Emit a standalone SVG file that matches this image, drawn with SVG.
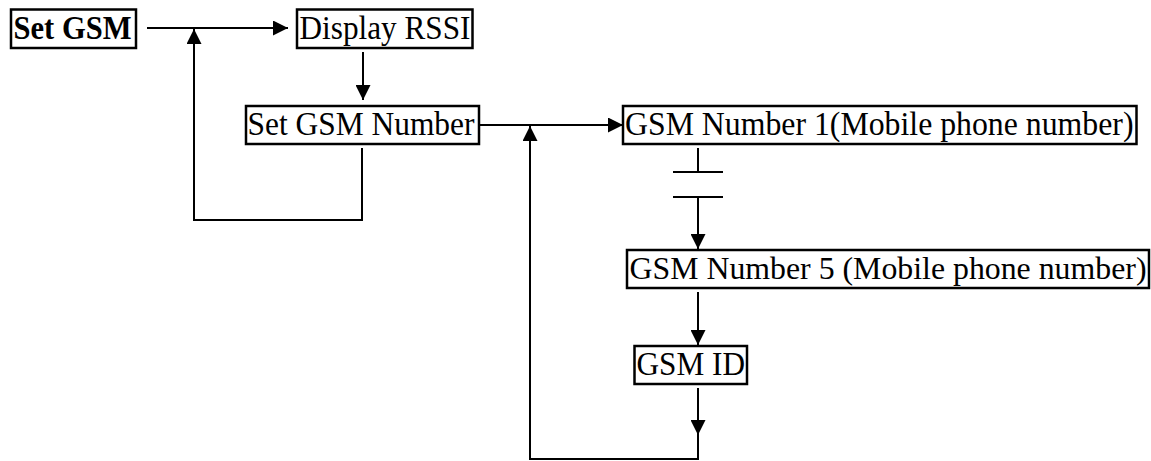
<svg xmlns="http://www.w3.org/2000/svg" width="1151" height="461" viewBox="0 0 1151 461">
<style>
.box{fill:#fff;stroke:#000;stroke-width:2.5}
.t{font-family:"Liberation Serif","DejaVu Serif",serif;font-size:33px;fill:#000}
.s{font-size:31.5px}
.b{font-weight:bold}
.c{fill:none;stroke:#000;stroke-width:2}
.a{marker-end:url(#ah)}
</style>
<defs>
<marker id="ah" viewBox="0 0 15 15" refX="15" refY="7.5" markerWidth="15" markerHeight="15" markerUnits="userSpaceOnUse" orient="auto">
<path d="M0,0 L15,7.5 L0,15 Z" fill="#000"/>
</marker>
</defs>
<rect width="1151" height="461" fill="#fff"/>
<g id="connectors">
<path class="c a" d="M147,28 H288"/>
<path class="c a" d="M363,52 V100"/>
<path class="c a" d="M362,148 V220 H194 V29"/>
<path class="c a" d="M480,125 H623"/>
<path class="c" d="M698,148 V172"/>
<path class="c" d="M673,172 H723 M673,197 H723"/>
<path class="c a" d="M698,197 V249"/>
<path class="c a" d="M698,292 V345"/>
<path class="c a" d="M698,388 V435"/>
<path class="c a" d="M698,435 V459 H530 V126"/>
</g>
<g id="set-gsm">
<rect class="box" x="11" y="9.5" width="125" height="38.5"/>
<text class="t b" x="13.5" y="38.5" textLength="118" lengthAdjust="spacingAndGlyphs">Set GSM</text>
</g>
<g id="display-rssi">
<rect class="box" x="297" y="9.5" width="175.5" height="38.5"/>
<text class="t" x="299.5" y="38.5" textLength="171" lengthAdjust="spacingAndGlyphs">Display RSSI</text>
</g>
<g id="set-gsm-number">
<rect class="box" x="246" y="106" width="233" height="38"/>
<text class="t" x="247.5" y="135" textLength="227" lengthAdjust="spacingAndGlyphs">Set GSM Number</text>
</g>
<g id="gsm-number-1">
<rect class="box" x="623" y="106" width="513.5" height="38"/>
<text class="t" x="625" y="135" textLength="508.5" lengthAdjust="spacingAndGlyphs">GSM Number 1(Mobile phone number)</text>
</g>
<g id="gsm-number-5">
<rect class="box" x="627" y="250" width="522" height="38"/>
<text class="t s" x="629.5" y="279" textLength="517" lengthAdjust="spacingAndGlyphs">GSM Number 5 (Mobile phone number)</text>
</g>
<g id="gsm-id">
<rect class="box" x="634.5" y="346" width="112.5" height="38"/>
<text class="t" x="636.5" y="375" textLength="108.5" lengthAdjust="spacingAndGlyphs">GSM ID</text>
</g>
</svg>
